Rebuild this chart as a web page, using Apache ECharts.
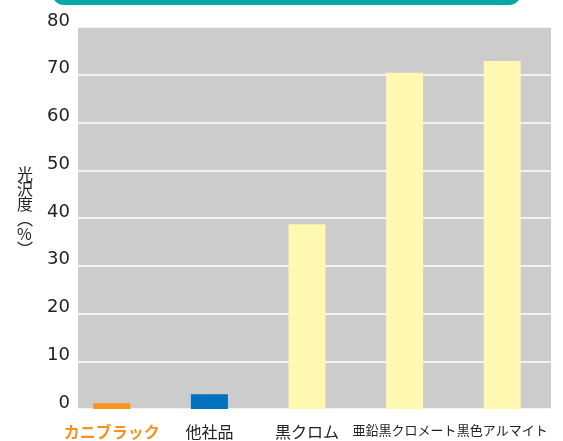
<!DOCTYPE html>
<html>
<head>
<meta charset="utf-8">
<script src="https://cdn.jsdelivr.net/npm/echarts@6/dist/echarts.min.js"></script>
<style>
html,body{margin:0;padding:0;background:#fff;}
#c{width:563px;height:441px;}
</style>
</head>
<body>
<div id="c"></div>
<script>
var categories = ['カニブラック', '他社品', '黒クロム', '亜鉛黒クロメート', '黒色アルマイト'];
var glossValues = [1.2, 3.1, 38.7, 70.4, 72.9];
var yTicks = [0, 10, 20, 30, 40, 50, 60, 70, 80];
var axisName = '光沢度(%)';

var barColors = ['#F7931E', '#0071BC', '#FFF8B0', '#FFF8B0', '#FFF8B0'];
var labelStyles = [
  {color: '#F7931E', fontWeight: 'bold', fontSize: 16},
  {color: '#222', fontSize: 16},
  {color: '#222', fontSize: 16},
  {color: '#222', fontSize: 13},
  {color: '#222', fontSize: 13}
];

var chart = echarts.init(document.getElementById('c'), null, {renderer: 'canvas'});
var font = '"Noto Sans CJK JP", "Noto Sans", sans-serif';

var vertName = axisName.replace('(', '︵').replace(')', '︶').split('').join('\n');

chart.setOption({
  animation: false,
  backgroundColor: '#fff',
  graphic: [
    {type: 'rect', shape: {x: 52, y: -20, width: 469, height: 25, r: 12}, style: {fill: '#00A9A9'}},
    {type: 'text', left: 17, top: 166, style: {text: vertName, font: '16px ' + font, fill: '#222', lineHeight: 15, align: 'center'}}
  ],
  grid: [
    {left: 78, top: 27, width: 473, height: 382, show: true, backgroundColor: '#CCCCCC', borderWidth: 0},
    {left: 63, top: 27, width: 488, height: 382}
  ],
  xAxis: [
    {type: 'category', gridIndex: 0, data: categories, show: false},
    {
      type: 'category', gridIndex: 1,
      data: categories.map(function (c, i) { return {value: c, textStyle: labelStyles[i]}; }),
      axisLine: {show: false}, axisTick: {show: false},
      axisLabel: {margin: 15, fontFamily: font, interval: 0}
    }
  ],
  yAxis: [
    {
      type: 'value', gridIndex: 0, min: 0, max: 80, interval: 10,
      axisLine: {show: false}, axisTick: {show: false},
      splitLine: {lineStyle: {color: '#fff', width: 1.5}},
      axisLabel: {margin: 8, fontSize: 18, color: '#222', fontFamily: '"DejaVu Sans", sans-serif',
        verticalAlign: 'bottom', lineHeight: 12,
        formatter: function (v) { return yTicks.indexOf(v) >= 0 ? String(v) : ''; }}
    },
    {type: 'value', gridIndex: 1, min: 0, max: 80, interval: 10, show: false, splitLine: {show: false}}
  ],
  series: [{
    type: 'bar',
    xAxisIndex: 1, yAxisIndex: 1,
    barWidth: 37,
    data: glossValues.map(function (v, i) { return {value: v, itemStyle: {color: barColors[i]}}; })
  }]
});
</script>
</body>
</html>
